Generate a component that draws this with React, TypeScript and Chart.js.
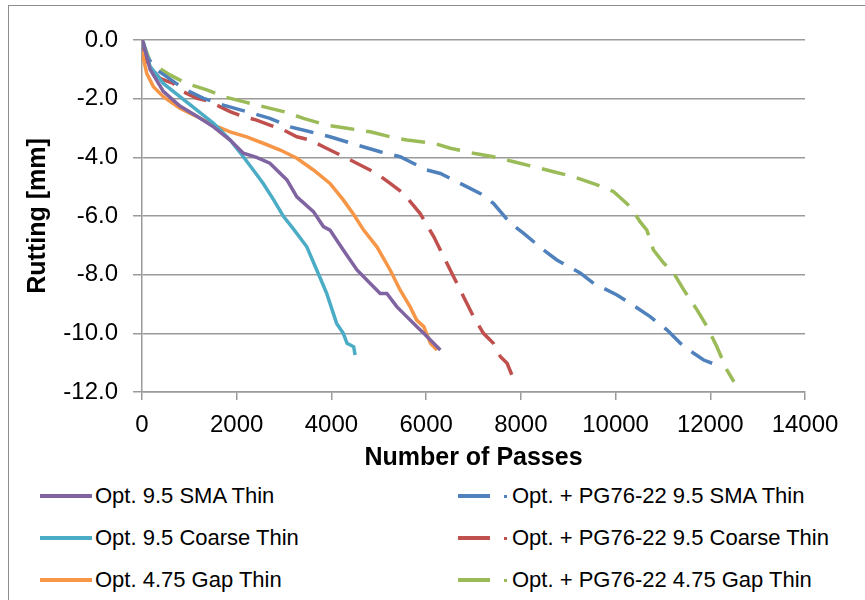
import React, { useEffect, useRef } from "react";
import { Chart, registerables } from "chart.js";

Chart.register(...registerables);

// ---- Data ----
const smaPasses = [0, 30, 170, 450, 800, 1160, 1510, 1860, 2140, 2420, 2700, 3060, 3270, 3620, 3830, 3970, 4250, 4540, 4820, 5030, 5170, 5380, 5590, 5800, 5950, 6090, 6300];
const smaRut = [0, -0.1, -1.0, -1.75, -2.25, -2.6, -2.96, -3.41, -3.86, -4.0, -4.2, -4.77, -5.35, -5.85, -6.36, -6.48, -7.16, -7.84, -8.3, -8.64, -8.64, -9.09, -9.43, -9.77, -10.0, -10.23, -10.57];

const coarsePasses = [0, 30, 170, 450, 800, 1160, 1510, 1860, 2140, 2350, 2560, 2780, 2990, 3200, 3480, 3690, 3900, 4110, 4250, 4330, 4470, 4500];
const coarseRut = [0, -0.1, -0.9, -1.48, -1.93, -2.39, -2.84, -3.41, -3.98, -4.43, -4.89, -5.45, -6.02, -6.45, -7.05, -7.84, -8.64, -9.66, -10.0, -10.34, -10.46, -10.74];

const gapPasses = [0, 100, 240, 450, 800, 1160, 1510, 1860, 2210, 2560, 2920, 3270, 3620, 3970, 4250, 4470, 4680, 4960, 5240, 5450, 5660, 5800, 5950, 6090, 6230];
const gapRut = [-0.4, -1.14, -1.59, -1.93, -2.33, -2.61, -2.9, -3.13, -3.3, -3.52, -3.75, -4.03, -4.43, -4.89, -5.45, -5.95, -6.48, -7.05, -7.84, -8.52, -9.09, -9.55, -9.77, -10.34, -10.57];

const pgSmaPasses = [0, 100, 310, 520, 870, 1300, 1720, 2210, 2700, 3130, 3550, 3970, 4540, 5030, 5450, 6010, 6300, 6650, 7140, 7420, 7780, 8060, 8480, 8760, 9260, 9540, 10030, 10310, 10730, 11090, 11370, 11650, 11860, 12040];
const pgSmaRut = [0, -0.55, -1.02, -1.25, -1.65, -1.99, -2.22, -2.44, -2.67, -2.96, -3.13, -3.3, -3.58, -3.81, -3.98, -4.43, -4.55, -4.83, -5.23, -5.57, -6.25, -6.59, -7.16, -7.5, -7.95, -8.3, -8.69, -8.98, -9.43, -9.89, -10.34, -10.68, -10.91, -11.02];

const pgCoarsePasses = [0, 100, 170, 380, 660, 870, 1160, 1440, 1580, 1860, 2140, 2420, 2700, 2990, 3270, 3550, 3830, 4110, 4400, 4680, 4960, 5240, 5520, 5870, 6160, 6370, 6580, 6790, 7000, 7210, 7420, 7570, 7710, 7810];
const pgCoarseRut = [0, -0.8, -0.91, -1.31, -1.48, -1.76, -1.99, -2.1, -2.22, -2.44, -2.61, -2.73, -2.9, -3.07, -3.3, -3.41, -3.64, -3.86, -4.09, -4.32, -4.55, -4.89, -5.23, -5.91, -6.7, -7.39, -8.07, -8.75, -9.43, -10.0, -10.34, -10.8, -11.02, -11.42];

const pgGapPasses = [0, 30, 170, 310, 590, 940, 1370, 1720, 2140, 2560, 2990, 3410, 3900, 4330, 4820, 5240, 5590, 6160, 6510, 7000, 7420, 7850, 8270, 8690, 9110, 9610, 9960, 10310, 10520, 10660, 10800, 11020, 11230, 11440, 11720, 11930, 12140, 12350, 12500];
const pgGapRut = [0, -0.11, -0.74, -0.91, -1.19, -1.48, -1.7, -1.93, -2.1, -2.27, -2.44, -2.67, -2.9, -3.01, -3.13, -3.3, -3.41, -3.52, -3.69, -3.86, -3.98, -4.15, -4.32, -4.49, -4.66, -4.94, -5.17, -5.68, -6.2, -6.48, -7.16, -7.61, -7.95, -8.52, -9.2, -9.77, -10.46, -11.25, -11.65];

const seriesNames = [
  "Opt. 9.5 SMA Thin",
  "Opt. 9.5 Coarse Thin",
  "Opt. 4.75 Gap Thin",
  "Opt. + PG76-22 9.5 SMA Thin",
  "Opt. + PG76-22 9.5 Coarse Thin",
  "Opt. + PG76-22 4.75 Gap Thin",
];
const seriesColors = ["#8064A2", "#4BACC6", "#F79646", "#4F81BD", "#C0504D", "#9BBB59"];
const seriesDashed = [false, false, false, true, true, true];
const seriesX = [smaPasses, coarsePasses, gapPasses, pgSmaPasses, pgCoarsePasses, pgGapPasses];
const seriesY = [smaRut, coarseRut, gapRut, pgSmaRut, pgCoarseRut, pgGapRut];

const xTicks = [0, 2000, 4000, 6000, 8000, 10000, 12000, 14000];
const xAxisTitle = "Number of Passes";
const yAxisTitle = "Rutting [mm]";

const FONT = "'Liberation Sans', Arial, Helvetica, sans-serif";
const GRID = "#9a9a9a";

export default function App() {
  const ref = useRef<HTMLCanvasElement>(null);

  useEffect(() => {
    const canvas = ref.current;
    if (!canvas) return;
    const datasets = seriesNames.map((name, i) => ({
      label: name,
      data: seriesX[i].map((x, j) => ({ x, y: seriesY[i][j] })),
      borderColor: seriesColors[i],
      backgroundColor: seriesColors[i],
      borderWidth: 3.5,
      borderDash: seriesDashed[i] ? [24, 12] : [],
      pointRadius: 0,
      tension: 0,
      fill: false,
    }));
    const chart = new Chart(canvas, {
      type: "line",
      data: { datasets },
      options: {
        responsive: false,
        animation: false,
        devicePixelRatio: 1,
        layout: { padding: { left: 20, right: 60, top: 40, bottom: 0 } },
        plugins: { legend: { display: false }, tooltip: { enabled: false } },
        scales: {
          x: {
            type: "linear",
            min: 0,
            max: 14000,
            afterFit: (s: any) => {
              s.height = 88;
            },
            afterBuildTicks: (s: any) => {
              s.ticks = xTicks.map((v) => ({ value: v }));
            },
            ticks: {
              font: { family: FONT, size: 24 },
              color: "#000",
              padding: 11,
              maxRotation: 0,
              autoSkip: false,
              callback: (v: any) => String(v),
            },
            grid: { drawOnChartArea: false, drawTicks: true, tickLength: 8, color: GRID, lineWidth: 1.5 },
            border: { display: true, color: GRID, width: 1.5 },
            title: {
              display: true,
              text: xAxisTitle,
              font: { family: FONT, size: 25, weight: "bold" },
              color: "#000",
              padding: { top: 0, bottom: 7 },
            },
          },
          y: {
            type: "linear",
            min: -12,
            max: 0,
            afterFit: (s: any) => {
              s.width = 122;
            },
            ticks: {
              stepSize: 2,
              font: { family: FONT, size: 24 },
              color: "#000",
              padding: 15,
              callback: (v: any) => Number(v).toFixed(1),
            },
            grid: { color: GRID, lineWidth: 1.5, tickLength: 9, drawTicks: true },
            border: { display: true, color: GRID, width: 1.5 },
            title: {
              display: true,
              text: yAxisTitle,
              font: { family: FONT, size: 25, weight: "bold" },
              color: "#000",
              padding: { top: 3, bottom: 0 },
            },
          },
        },
      },
    });
    return () => chart.destroy();
  }, []);

  const rowsY = [496, 538, 580];

  return (
    <div
      style={{
        position: "fixed",
        left: 0,
        top: 0,
        width: 865,
        height: 600,
        background: "#fff",
        overflow: "hidden",
        fontFamily: FONT,
      }}
    >
      <div
        style={{
          position: "absolute",
          left: 8,
          top: 5,
          width: 900,
          height: 700,
          borderLeft: "1.5px solid #8c8c8c",
          borderTop: "1.5px solid #8c8c8c",
        }}
      />
      <canvas ref={ref} width={865} height={480} style={{ position: "absolute", left: 0, top: 0, display: "block" }} />
      {seriesNames.map((name, i) => {
        const col = i < 3 ? 0 : 1;
        const row = i % 3;
        const cy = rowsY[row];
        const color = seriesColors[i];
        if (col === 0) {
          return (
            <div key={name}>
              <div style={{ position: "absolute", left: 40, top: cy - 2, width: 52, height: 4, background: color }} />
              <div
                style={{
                  position: "absolute",
                  left: 95,
                  top: cy - 13,
                  height: 26,
                  lineHeight: "26px",
                  fontSize: 22,
                  color: "#000",
                  whiteSpace: "nowrap",
                }}
              >
                {name}
              </div>
            </div>
          );
        }
        return (
          <div key={name}>
            <div style={{ position: "absolute", left: 458, top: cy - 2, width: 32, height: 4, background: color }} />
            <div style={{ position: "absolute", left: 504, top: cy - 1.5, width: 3, height: 3, background: color }} />
            <div
              style={{
                position: "absolute",
                left: 512,
                top: cy - 13,
                height: 26,
                lineHeight: "26px",
                fontSize: 22,
                color: "#000",
                whiteSpace: "nowrap",
              }}
            >
              {name}
            </div>
          </div>
        );
      })}
    </div>
  );
}
